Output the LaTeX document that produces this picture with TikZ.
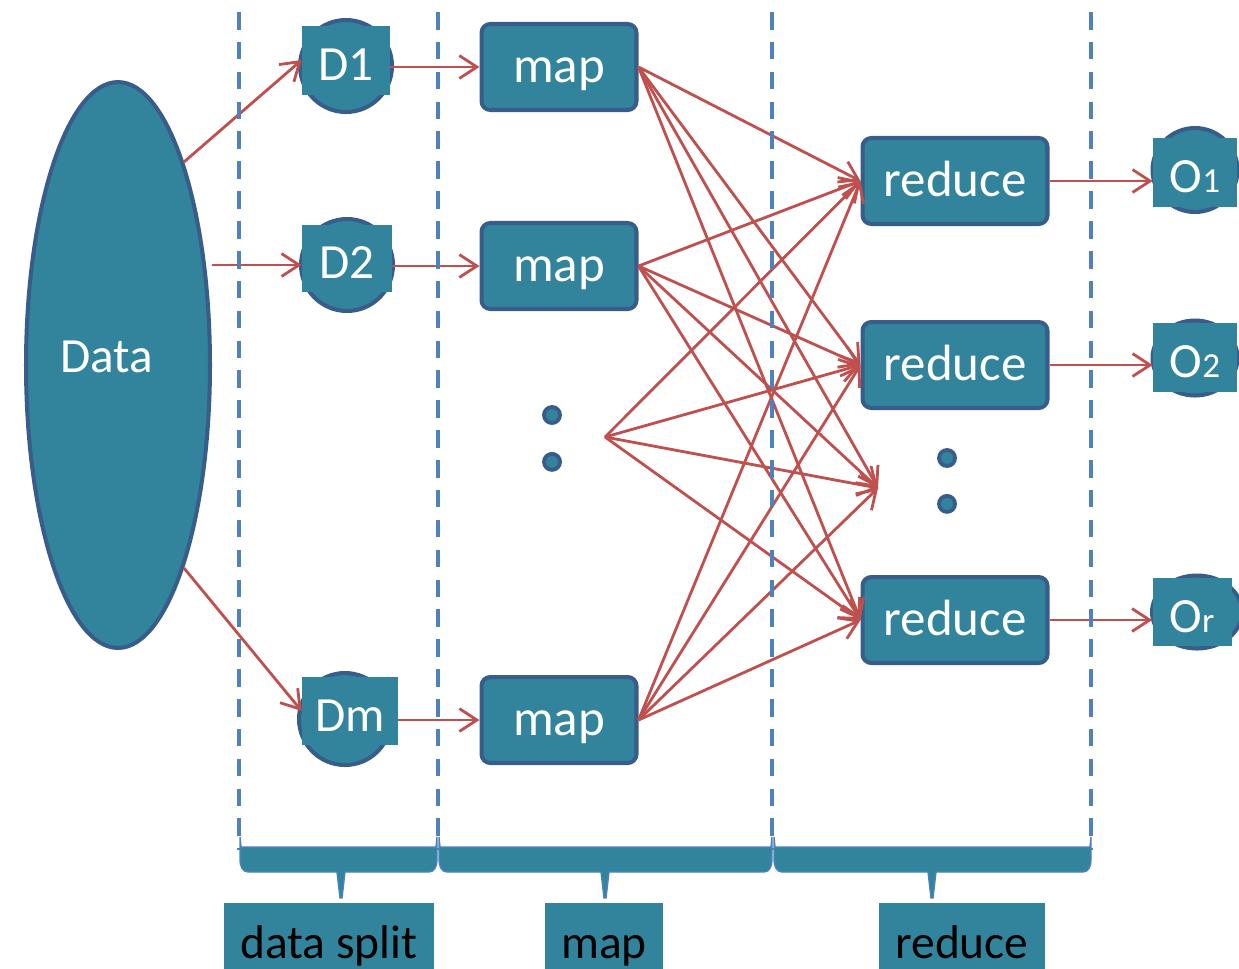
\documentclass[tikz,border=0pt]{standalone}
\usepackage{fontspec}
\setmainfont{Carlito}
\usepackage{tikz}
\usetikzlibrary{shapes.geometric, arrows.meta, positioning, calc}

\definecolor{boxfill}{RGB}{49,132,155}
\definecolor{boxline}{RGB}{56,93,138}
\definecolor{flowred}{RGB}{192,80,77}
\definecolor{guideblue}{RGB}{79,129,189}

\begin{document}
\begin{tikzpicture}[
  x=0.02cm, y=-0.02cm,
  stage/.style={rectangle, draw=boxline, rounded corners=5pt, line width=2.3pt, fill=boxfill, text=white, minimum width=3.1cm, minimum height=1.72cm, text height=0.6cm, text depth=0cm, font=\fontsize{29}{30}\selectfont},
  blob/.style={ellipse, draw=boxline, line width=2.3pt, fill=boxfill, minimum width=1.84cm, minimum height=1.84cm},
  tag/.style={rectangle, fill=boxfill, text=white, inner sep=0pt, text height=0.8cm, text depth=0cm, font=\fontsize{28}{30}\selectfont},
  dot/.style={circle, draw=boxline, line width=2.2pt, fill=boxfill, inner sep=0pt, minimum size=0.32cm},
  caption/.style={rectangle, fill=boxfill, text=black, anchor=north, inner xsep=0pt, inner ysep=0pt, text height=1.1cm, text depth=0.7cm, font=\fontsize{27}{30}\selectfont},
  brace/.style={fill=boxfill, draw=guideblue, line width=0.8pt},
  guide/.style={guideblue, line width=2.6pt, dash pattern=on 10pt off 7pt},
  arrow/.style={-{Straight Barb[length=10pt,width=13pt]}, line width=1.6pt, flowred}
]
  \useasboundingbox (0,0) rectangle (1239,968);

  % input data
  \node[ellipse, draw=boxline, line width=2.3pt, fill=boxfill, minimum width=3.68cm, minimum height=11.32cm] (data) at (118,365) {};
  \node[text=white, font=\fontsize{28}{30}\selectfont] (datatext) at (107,357) {Data};

  % splits
  \node[blob] (D1c) at (346,66) {};
  \node[tag, minimum width=1.76cm, minimum height=1.38cm] (D1) at (346,60) {D1};
  \node[blob] (D2c) at (347,265) {};
  \node[tag, minimum width=1.8cm, minimum height=1.34cm] (D2) at (347,258) {D2};
  \node[blob] (Dmc) at (345,719) {};
  \node[tag, minimum width=1.92cm, minimum height=1.36cm] (Dm) at (350,711) {Dm};

  % map tasks
  \node[stage] (map1) at (559,67) {map};
  \node[stage] (map2) at (559,266) {map};
  \node[stage] (mapm) at (559,720) {map};
  \node[dot] (mdot1) at (552,415) {};
  \node[dot, below=0.54cm of mdot1] (mdot2) {};
  \coordinate (mapd) at (605,437);

  % reduce tasks
  \node[stage, minimum width=3.7cm] (red1) at (955,181) {reduce};
  \node[stage, minimum width=3.7cm] (red2) at (955,365) {reduce};
  \node[stage, minimum width=3.7cm] (redr) at (955,620) {reduce};
  \node[dot] (rdot1) at (947,458) {};
  \node[dot, below=0.52cm of rdot1] (rdot2) {};
  \coordinate (redd) at (878,488);

  % outputs
  \node[blob, minimum width=1.7cm, minimum height=1.68cm] (O1c) at (1195,170) {};
  \node[tag, minimum width=1.68cm, minimum height=1.38cm] (O1) at (1195,172) {O{\fontsize{20}{20}\selectfont 1}};
  \node[blob, minimum width=1.7cm, minimum height=1.5cm] (O2c) at (1195,358) {};
  \node[tag, minimum width=1.68cm, minimum height=1.38cm] (O2) at (1195,357) {O{\fontsize{20}{20}\selectfont 2}};
  \node[blob, minimum width=1.8cm, minimum height=1.46cm] (Orc) at (1197,612) {};
  \node[tag, minimum width=1.58cm, minimum height=1.36cm] (Or) at (1192,612) {O{\fontsize{20}{20}\selectfont r}};

  % flows
  \draw[arrow] (data.72) -- (D1.west);
  \draw[arrow] (data.east |- D2c.west) -- (D2c.west -| D2.west);
  \draw[arrow] (data.-72) -- (Dm.west);
  \draw[arrow] (map1.west -| D1.east) -- (map1.west);
  \draw[arrow] (map2.west -| D2.east) -- (map2.west);
  \draw[arrow] (mapm.west -| Dm.east) -- (mapm.west);
  \foreach \s in {map1.east, map2.east, mapd, mapm.east}
    \foreach \t in {red1.west, red2.west, redd, redr.west}
      \draw[arrow] (\s) -- (\t);
  \draw[arrow] (red1.east) -- (red1.east -| O1.west);
  \draw[arrow] (red2.east) -- (red2.east -| O2.west);
  \draw[arrow] (redr.east) -- (redr.east -| Or.west);

  % stage borders
  \foreach \x in {239, 438, 772, 1091}
    \draw[guide] (\x,12) -- (\x,850);

  % braces and captions
  \foreach \l/\r/\m in {240/437/341, 439/772/605, 774/1091/932}
    \filldraw[brace] (\l,837) -- (\l,860) to[out=-90,in=180] (\l+8,872) -- (\m-4,872) -- (\m-1,898) -- (\m+1,898) -- (\m+4,872) -- (\r-8,872) to[out=0,in=-90] (\r,860) -- (\r,837) -- (\r-1,847) -- (\l+1,847) -- cycle;
  \node[caption, minimum width=4.2cm] (capsplit) at (329,903) {data split};
  \node[caption, minimum width=2.36cm] (capmap) at (604,903) {map};
  \node[caption, minimum width=3.32cm] (capred) at (962,903) {reduce};
\end{tikzpicture}
\end{document}
